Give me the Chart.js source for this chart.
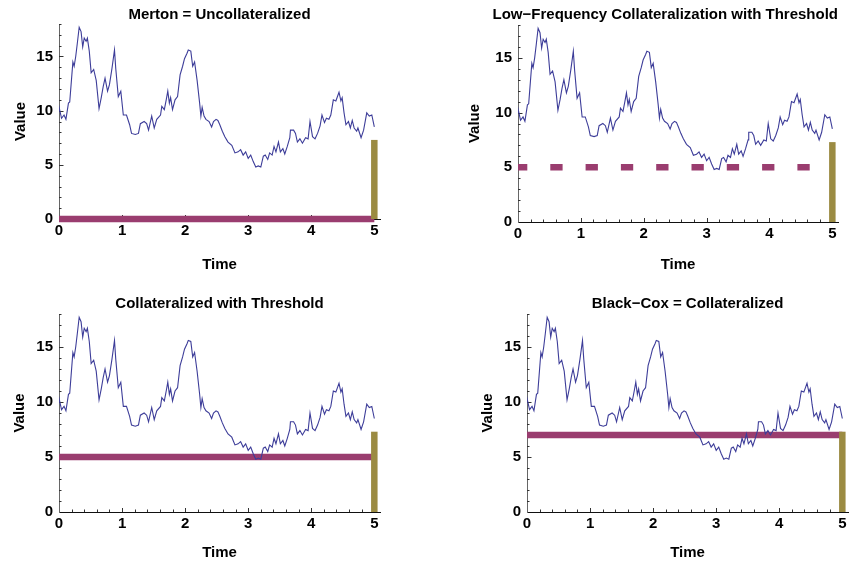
<!DOCTYPE html>
<html>
<head>
<meta charset="utf-8">
<script src="https://cdn.jsdelivr.net/npm/chart.js@4.4.1/dist/chart.umd.min.js"></script>
<style>
body { margin: 0; background: #fff; }
#wrap { position: relative; width: 861px; height: 564px; }
canvas { position: absolute; }
</style>
</head>
<body>
<div id="wrap">
	<canvas id="c0" width="430" height="282" style="left:0;top:0"></canvas>
	<canvas id="c1" width="431" height="282" style="left:430px;top:0"></canvas>
	<canvas id="c2" width="430" height="282" style="left:0;top:282px"></canvas>
	<canvas id="c3" width="431" height="282" style="left:430px;top:282px"></canvas>
</div>
<script>
// Simulated firm value path (same in all four panels)
const times = [
	0, 0.01, 0.04, 0.08, 0.11, 0.15, 0.17, 0.22, 0.24, 0.265, 0.29, 0.32, 0.35, 0.376, 0.40, 0.43, 0.45,
	0.48, 0.51, 0.55, 0.59, 0.635, 0.67, 0.70, 0.73, 0.77, 0.80, 0.84, 0.88, 0.90, 0.94, 0.98, 1.02, 1.07,
	1.12, 1.15, 1.21, 1.26, 1.29, 1.35, 1.39, 1.42, 1.47, 1.51, 1.55, 1.61, 1.63, 1.67, 1.70, 1.725, 1.75,
	1.77, 1.80, 1.84, 1.88, 1.92, 1.96, 1.99, 2.03, 2.05, 2.09, 2.12, 2.15, 2.19, 2.23, 2.25, 2.27, 2.30,
	2.33, 2.38, 2.42, 2.45, 2.49, 2.52, 2.55, 2.59, 2.63, 2.68, 2.74, 2.79, 2.84, 2.88, 2.92, 2.96, 3.0,
	3.04, 3.08, 3.12, 3.16, 3.20, 3.24, 3.27, 3.31, 3.34, 3.38, 3.41, 3.44, 3.48, 3.51, 3.55, 3.58, 3.62,
	3.66, 3.67, 3.72, 3.75, 3.78, 3.82, 3.86, 3.91, 3.95, 3.98, 4.02, 4.06, 4.10, 4.14, 4.17, 4.21, 4.24,
	4.28, 4.31, 4.35, 4.39, 4.44, 4.47, 4.49, 4.52, 4.55, 4.59, 4.62, 4.65, 4.68, 4.72, 4.74, 4.79, 4.83,
	4.88, 4.92, 4.96, 5.0
];
const values = [
	10.0, 10.1, 9.3, 9.6, 9.2, 10.7, 10.8, 14.5, 14.1, 15.0, 16.2, 17.7, 17.3, 15.9, 16.7, 16.4, 16.7,
	15.5, 13.5, 13.8, 12.8, 10.2, 11.2, 12.2, 13.0, 11.8, 12.4, 13.9, 15.6, 13.9, 11.3, 11.8, 9.6, 9.6,
	8.7, 7.9, 7.8, 7.9, 8.8, 9.0, 8.8, 8.2, 9.5, 8.4, 9.2, 9.6, 10.4, 10.1, 11.0, 11.8, 10.7,
	11.2, 10.1, 11.0, 11.3, 13.3, 14.1, 14.8, 15.3, 15.6, 15.5, 14.1, 14.5, 12.8, 10.7, 9.5, 10.3, 9.5,
	9.2, 9.0, 8.5, 9.0, 9.2, 9.1, 8.7, 8.1, 7.6, 7.1, 6.8, 6.1, 6.2, 6.4, 5.9, 6.2, 5.6,
	5.9, 5.3, 4.8, 4.9, 4.8, 5.8, 5.9, 5.5, 6.1, 5.9, 6.7, 6.2, 7.1, 6.2, 6.5, 6.0, 6.7,
	7.5, 8.2, 8.2, 7.9, 7.1, 7.4, 7.0, 7.5, 7.4, 9.0, 7.6, 7.4, 7.9, 8.6, 9.6, 8.9, 9.3,
	9.2, 9.6, 11.0, 10.9, 11.7, 10.9, 11.2, 9.8, 8.7, 9.0, 8.4, 9.1, 8.4, 8.1, 8.4, 7.5, 8.2,
	9.8, 9.5, 9.6, 8.5
];

const titles = [
	'Merton = Uncollateralized',
	'Low\u2212Frequency Collateralization with Threshold',
	'Collateralized with Threshold',
	'Black\u2212Cox = Collateralized'
];
const thresholds = [0, 5, 5, 7];
const dashedThreshold = [false, true, false, false];
const maturity = 5;
const debtValue = 7.3;
const xTicks = [0, 1, 2, 3, 4, 5];
const yTicks = [0, 5, 10, 15];

// layout of each panel inside its canvas
const panelLayout = [
	{ pad: { left: 12, right: 50, top: 0, bottom: 8 }, yWidth: 47, xHeight: 55, titlePad: { top: 6, bottom: 0 }, wideTitle: false },
	{ pad: { left: 36, right: 23, top: 0, bottom: 8 }, yWidth: 52, xHeight: 52, titlePad: { top: 6, bottom: 1 }, wideTitle: true },
	{ pad: { left: 11, right: 50, top: 0, bottom: 2 }, yWidth: 48, xHeight: 50, titlePad: { top: 13, bottom: 1 }, wideTitle: false },
	{ pad: { left: 49, right: 13, top: 0, bottom: 2 }, yWidth: 48, xHeight: 50, titlePad: { top: 13, bottom: 1 }, wideTitle: false }
];

const FONT = "'Liberation Sans', Arial, sans-serif";
const pathColor = '#3d3d99';
const thresholdColor = '#9a3d6f';
const barColor = '#9b8b42';

// Mathematica-style ticks pointing into the plot
const inwardTicks = {
	id: 'inwardTicks',
	beforeDatasetsDraw(chart) {
		const ctx = chart.ctx;
		const xs = chart.scales.x, ys = chart.scales.y;
		const y0 = ys.getPixelForValue(0);
		const x0 = xs.getPixelForValue(0);
		ctx.save();
		ctx.strokeStyle = '#333';
		ctx.lineWidth = 1;
		ctx.beginPath();
		for (let i = 1; i <= 25; i++) {
			const px = Math.round(xs.getPixelForValue(i * 0.2)) + 0.5;
			const len = i % 5 === 0 ? 4 : 2.5;
			ctx.moveTo(px, y0);
			ctx.lineTo(px, y0 - len);
		}
		for (let j = 1; j <= 18; j++) {
			const py = Math.round(ys.getPixelForValue(j)) + 0.5;
			const len = j % 5 === 0 ? 4.5 : 2.5;
			ctx.moveTo(x0, py);
			ctx.lineTo(x0 + len, py);
		}
		ctx.stroke();
		ctx.restore();
	}
};

function makePanel(idx) {
	const lay = panelLayout[idx];
	const path = times.map((t, i) => ({ x: t, y: values[i] }));
	const level = thresholds[idx];
	const datasets = [
		{
			data: path,
			borderColor: pathColor,
			borderWidth: 1.1,
			pointRadius: 0,
			tension: 0
		},
		{
			data: [{ x: maturity, y: 0 }, { x: maturity, y: debtValue }],
			borderColor: barColor,
			borderWidth: 6.5,
			pointRadius: 0,
			clip: false
		},
		{
			data: [{ x: 0, y: level }, { x: maturity, y: level }],
			borderColor: thresholdColor,
			borderWidth: 6.5,
			borderDash: dashedThreshold[idx] ? [12.3, 23] : [],
			borderDashOffset: dashedThreshold[idx] ? 3 : 0,
			pointRadius: 0,
			clip: false
		}
	];

	new Chart(document.getElementById('c' + idx), {
		type: 'line',
		data: { datasets },
		plugins: [inwardTicks],
		options: {
			responsive: false,
			animation: false,
			layout: { padding: lay.pad },
			plugins: {
				legend: { display: false },
				tooltip: { enabled: false },
				title: {
					display: true,
					text: titles[idx],
					fullSize: lay.wideTitle,
					align: lay.wideTitle ? 'end' : 'center',
					color: '#000',
					font: { family: FONT, size: 15, weight: 'bold' },
					padding: lay.titlePad
				}
			},
			scales: {
				x: {
					type: 'linear',
					min: 0,
					max: 5.09,
					grid: { display: false, drawTicks: false },
					border: { display: true, color: '#111', width: 1 },
					afterBuildTicks: s => { s.ticks = xTicks.map(v => ({ value: v })); },
					afterFit: s => { s.height = lay.xHeight; },
					ticks: {
						color: '#000',
						padding: 3,
						maxRotation: 0,
						font: { family: FONT, size: 15, weight: 'bold' }
					},
					title: {
						display: true,
						text: 'Time',
						color: '#000',
						padding: 0,
						font: { family: FONT, size: 15, weight: 'bold' }
					}
				},
				y: {
					type: 'linear',
					min: 0,
					max: 18,
					grid: { display: false, drawTicks: false },
					border: { display: true, color: '#666', width: 1 },
					afterBuildTicks: s => { s.ticks = yTicks.map(v => ({ value: v })); },
					afterFit: s => { s.width = lay.yWidth; },
					ticks: {
						color: '#000',
						padding: 6,
						font: { family: FONT, size: 15, weight: 'bold' }
					},
					title: {
						display: true,
						text: 'Value',
						color: '#000',
						padding: 0,
						font: { family: FONT, size: 15, weight: 'bold' }
					}
				}
			}
		}
	});
}

for (let i = 0; i < 4; i++) makePanel(i);
</script>
</body>
</html>
